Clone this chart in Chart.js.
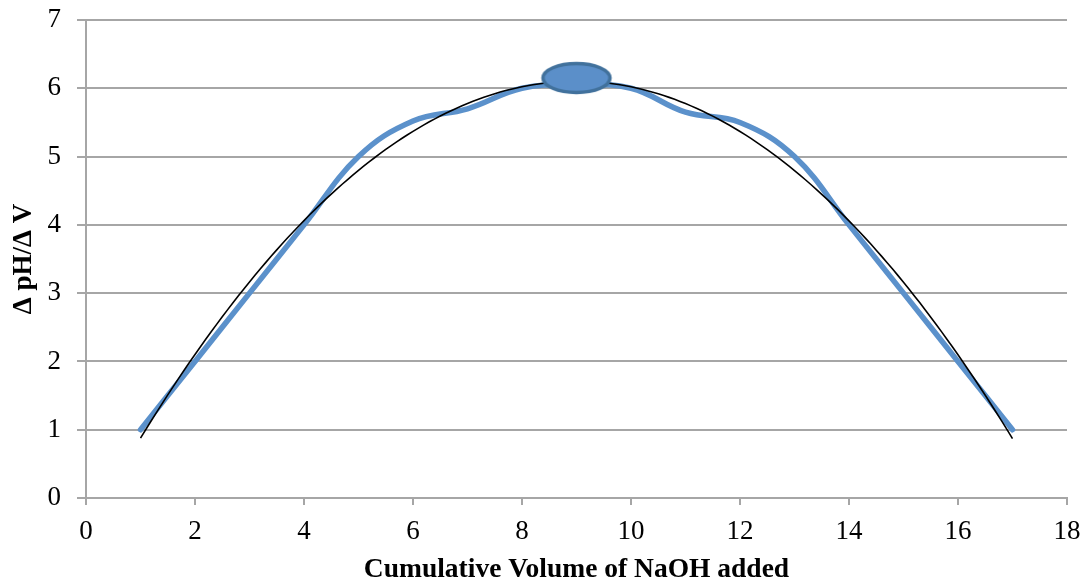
<!DOCTYPE html>
<html>
<head>
<meta charset="utf-8">
<script src="https://cdn.jsdelivr.net/npm/chart.js@4"></script>
<style>
html,body{margin:0;padding:0;background:#fff;}
#wrap{width:1086px;height:586px;position:relative;}
</style>
</head>
<body>
<div id="wrap"><canvas id="c" width="1086" height="586"></canvas></div>
<script>
// Data
const volumes = [1,2,3,4,5,6,7,8,9,10,11,12,13,14,15,16,17];
const dpHdV   = [1,2,3,4,5,5.52,5.7,6,6.05,6,5.65,5.5,5,4,3,2,1];
const peakX = [9];
const peakY = [6.15];
const xTicks = [0,2,4,6,8,10,12,14,16,18];
const yTicks = [0,1,2,3,4,5,6,7];

// Polynomial (order 2) trendline, least-squares fit of the data (as the spreadsheet does)
function polyFit2(xs, ys){
  let n=xs.length,s1=0,s2=0,s3=0,s4=0,t0=0,t1=0,t2=0;
  for(let i=0;i<n;i++){const x=xs[i],y=ys[i];s1+=x;s2+=x*x;s3+=x*x*x;s4+=x*x*x*x;t0+=y;t1+=x*y;t2+=x*x*y;}
  const M=[[n,s1,s2,t0],[s1,s2,s3,t1],[s2,s3,s4,t2]];
  for(let i=0;i<3;i++){for(let k=i+1;k<3;k++){const f=M[k][i]/M[i][i];for(let j=i;j<4;j++)M[k][j]-=f*M[i][j];}}
  const c=[0,0,0];
  for(let i=2;i>=0;i--){let s=M[i][3];for(let j=i+1;j<3;j++)s-=M[i][j]*c[j];c[i]=s/M[i][i];}
  return c;
}
const coef = polyFit2(volumes, dpHdV);
const trend = [];
const xmin = volumes[0], xmax = volumes[volumes.length-1];
for(let k=0;k<=160;k++){const x=xmin+(xmax-xmin)*k/160;trend.push({x:x,y:coef[0]+coef[1]*x+coef[2]*x*x});}

// ellipse marker
const ell = document.createElement('canvas');
ell.width=74; ell.height=36;
(function(){const g=ell.getContext('2d');g.beginPath();g.ellipse(37,18,33.5,14.5,0,0,Math.PI*2);g.fillStyle='#5b8fc9';g.fill();g.lineWidth=3.5;g.strokeStyle='#41719c';g.stroke();})();

const serif = "'Liberation Serif', 'DejaVu Serif', serif";
const gridColor = '#a6a6a6';

new Chart(document.getElementById('c'), {
  type: 'scatter',
  data: {
    datasets: [
      {data: peakX.map((x,i)=>({x:x,y:peakY[i]})), pointStyle: ell, pointRadius: 18, order: 0, showLine:false},
      {data: trend, showLine: true, borderColor: '#000', borderWidth: 1.6, pointRadius: 0, tension: 0, order: 1},
      {data: volumes.map((x,i)=>({x:x,y:dpHdV[i]})), showLine: true, borderColor: '#5b91cb', borderWidth: 5.5, pointRadius: 0, tension: 0.4, order: 2, borderCapStyle:'round', borderJoinStyle:'round'}
    ]
  },
  options: {
    responsive: false,
    animation: false,
    layout: {padding: {top: 20, right: 16, left: 0, bottom: 0}},
    plugins: {legend: {display: false}, tooltip: {enabled: false}},
    scales: {
      x: {
        type: 'linear', min: 0, max: 18,
        afterBuildTicks: s => { s.ticks = xTicks.map(v=>({value:v})); },
        afterFit: s => { s.height = 88; s.paddingLeft = 0; s.paddingRight = 0; },
        grid: {display: true, drawOnChartArea: false, drawTicks: true, tickLength: 7, color: gridColor, lineWidth: 2},
        border: {display: true, color: gridColor, width: 2},
        ticks: {font: {family: serif, size: 27}, color: '#000', padding: 11, maxRotation: 0},
        title: {display: true, text: 'Cumulative Volume of NaOH added', font: {family: serif, size: 27.5, weight: 'bold'}, color: '#000', padding: {top: 9, bottom: 0}}
      },
      y: {
        min: 0, max: 7,
        afterBuildTicks: s => { s.ticks = yTicks.map(v=>({value:v})); },
        afterFit: s => { s.width = 86; s.paddingTop = 0; s.paddingBottom = 0; },
        grid: {display: true, drawOnChartArea: true, drawTicks: true, tickLength: 9, color: gridColor, lineWidth: 2},
        border: {display: true, color: gridColor, width: 2},
        ticks: {font: {family: serif, size: 27}, color: '#000', padding: 16},
        title: {display: true, text: 'Δ pH/Δ V', font: {family: serif, size: 27, weight: 'bold'}, color: '#000', padding: {top: 8, bottom: 0}}
      }
    }
  }
});
</script>
</body>
</html>
